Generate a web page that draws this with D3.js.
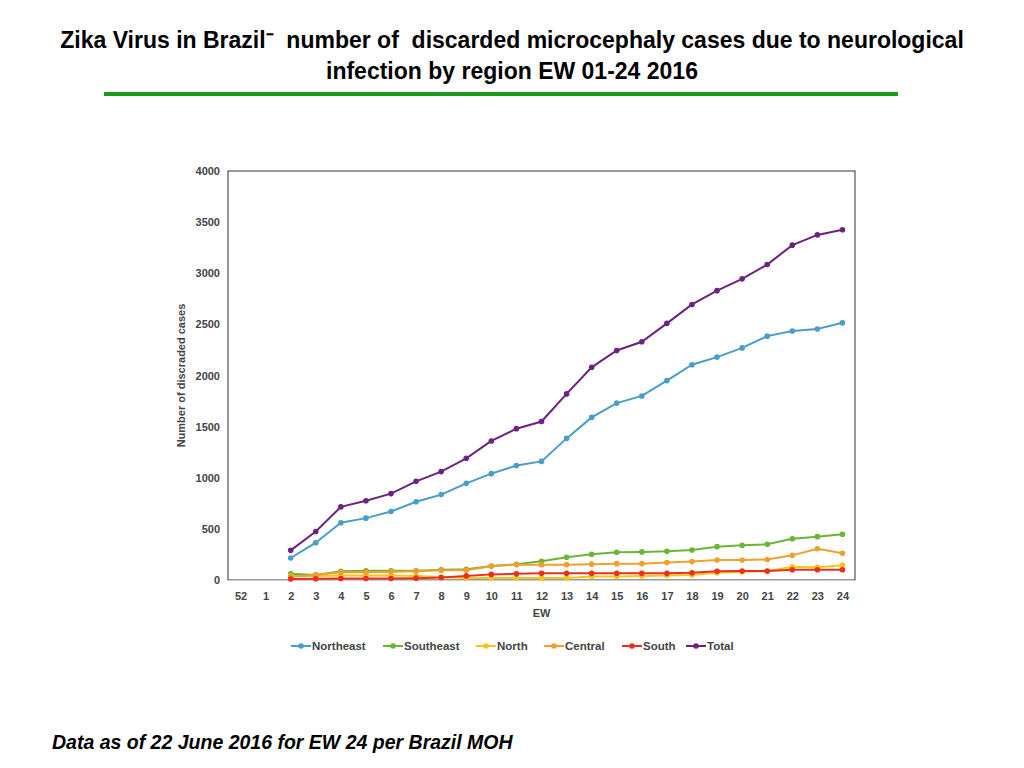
<!DOCTYPE html>
<html><head><meta charset="utf-8">
<script src="https://cdn.jsdelivr.net/npm/d3@7"></script>
<style>body{margin:0;background:#fff;font-family:Helvetica,Arial,"Liberation Sans",sans-serif}</style>
</head><body>
<svg id="c" width="1024" height="768"></svg>
<script>
var weeks = ["52","1","2","3","4","5","6","7","8","9","10","11","12","13","14","15","16","17","18","19","20","21","22","23","24"];
var dataWeeks = weeks.slice(2);
var northeast = [215,365,560,605,670,765,835,945,1040,1120,1160,1385,1590,1730,1800,1950,2105,2180,2270,2385,2435,2455,2515];
var southeast = [60,50,85,90,90,90,100,105,137,153,183,222,251,271,275,280,293,326,339,349,404,424,447];
var north = [40,40,45,45,45,40,30,20,20,20,20,20,35,35,40,45,50,70,80,85,130,125,145];
var central = [33,50,75,75,80,85,95,95,135,150,150,150,155,160,160,170,180,195,195,200,241,306,261];
var south = [10,12,15,15,15,18,25,40,55,60,65,65,65,65,65,65,70,85,88,88,100,100,100];
var total = [290,475,715,775,845,965,1060,1190,1360,1480,1550,1820,2080,2245,2330,2510,2695,2830,2945,3085,3275,3375,3425];
var yTicks = [0,500,1000,1500,2000,2500,3000,3500,4000];

var series = [
  {name:"Northeast", color:"#4a9cc9", values:northeast},
  {name:"Southeast", color:"#6ab534", values:southeast},
  {name:"North", color:"#f5c518", values:north},
  {name:"Central", color:"#f0a030", values:central},
  {name:"South", color:"#e8301c", values:south},
  {name:"Total", color:"#6a2380", values:total}
];

var svg = d3.select("#c");
svg.append("text").attr("x",512).attr("y",48).attr("text-anchor","middle")
  .style("font-size","23px").style("font-weight","bold").style("white-space","pre")
  .text("Zika Virus in Brazil\u207B  number of  discarded microcephaly cases due to neurological");
svg.append("text").attr("x",512).attr("y",79).attr("text-anchor","middle")
  .style("font-size","23px").style("font-weight","bold")
  .text("infection by region EW 01-24 2016");
svg.append("line").attr("x1",104).attr("x2",898).attr("y1",94).attr("y2",94)
  .attr("stroke","#1a9a1a").attr("stroke-width",4);

var pl = 228, pr = 855, pt = 171, pb = 580;
var x = d3.scalePoint().domain(weeks).range([pl, pr]).padding(0.5);
var y = d3.scaleLinear().domain([0,4000]).range([pb, pt]);

svg.append("rect").attr("x",pl).attr("y",pt).attr("width",pr-pl).attr("height",pb-pt)
  .attr("fill","none").attr("stroke","#000").attr("stroke-width",0.8);

var ya = svg.append("g").attr("transform","translate("+pl+",0)")
  .call(d3.axisLeft(y).tickValues(yTicks).tickSize(0).tickPadding(8).tickFormat(d3.format("d")));
ya.select(".domain").remove();
ya.selectAll("text").style("font-size","11px").style("font-weight","bold").attr("fill","#444");

var xa = svg.append("g").attr("transform","translate(0,"+pb+")")
  .call(d3.axisBottom(x).tickSize(0).tickPadding(12));
xa.select(".domain").attr("stroke","#ccc");
xa.selectAll("text").style("font-size","11px").style("font-weight","bold").attr("fill","#444");

svg.append("text").attr("x",(pl+pr)/2).attr("y",617).attr("text-anchor","middle")
  .style("font-size","11px").style("font-weight","bold").attr("fill","#444").text("EW");
svg.append("text").attr("transform","translate(185,"+((pt+pb)/2)+") rotate(-90)")
  .attr("text-anchor","middle").style("font-size","11px").style("font-weight","bold").attr("fill","#444")
  .text("Number of discraded cases");

var line = d3.line().x(function(d,i){return x(dataWeeks[i]);}).y(function(d){return y(d);});
series.forEach(function(s){
  var g = svg.append("g");
  g.append("path").datum(s.values).attr("d",line).attr("fill","none")
    .attr("stroke",s.color).attr("stroke-width",2);
  g.selectAll("circle").data(s.values).enter().append("circle")
    .attr("cx",function(d,i){return x(dataWeeks[i]);}).attr("cy",function(d){return y(d);})
    .attr("r",2.8).attr("fill",s.color);
});

var legX = [291, 383, 476, 544, 622, 686];
series.forEach(function(s,i){
  var g = svg.append("g").attr("transform","translate("+legX[i]+",646)");
  g.append("line").attr("x1",0).attr("x2",20).attr("stroke",s.color).attr("stroke-width",2);
  g.append("circle").attr("cx",10).attr("r",2.8).attr("fill",s.color);
  g.append("text").attr("x",21).attr("y",4).style("font-size","11.5px").style("font-weight","bold")
    .attr("fill","#444").text(s.name);
});

svg.append("text").attr("x",52).attr("y",749).style("font-size","19.5px")
  .style("font-weight","bold").style("font-style","italic")
  .text("Data as of 22 June 2016 for EW 24 per Brazil MOH");
</script>
</body></html>
